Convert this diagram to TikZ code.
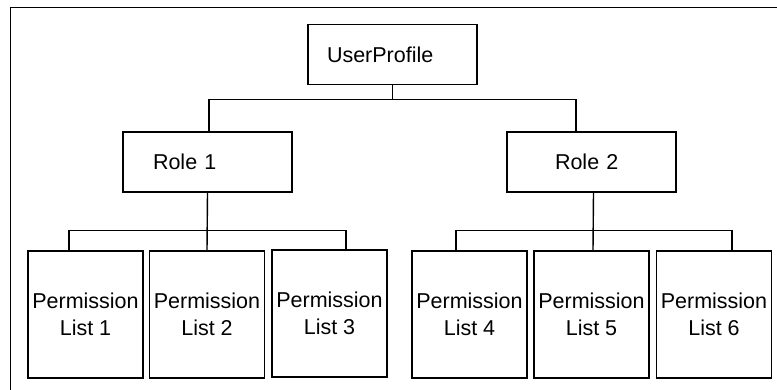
\documentclass[tikz,border=0pt]{standalone}
\usepackage{fontspec}
\setmainfont{Liberation Sans}
\begin{document}
\begin{tikzpicture}[x=1pt,y=-1pt,
  box/.style={draw, line width=1.4pt, rectangle, inner ysep=0pt,
              minimum width=169pt, minimum height=60pt,
              font=\fontsize{21.5}{25}\selectfont, align=left},
  perm/.style={draw, line width=1.4pt, rectangle, inner sep=0pt,
               minimum width=115pt, minimum height=127pt,
               font=\fontsize{21.5}{27}\selectfont, align=center},
  link/.style={draw, line width=1.4pt},
  frame/.style={draw, line width=1.7pt}]
\useasboundingbox (0,0) rectangle (777,389);

% open frame along the top and left edges
\coordinate (fc) at (10.5,7.5);
\coordinate (fr) at (790,7.5);
\coordinate (fb) at (10.5,400);
\draw[frame] (fr) -- (fc) -- (fb);

% root and role boxes (text set towards the left)
\node[box, inner xsep=19pt, text width=131pt] (up) at (392.5,54.5) {UserProfile};
\node[box, inner xsep=30pt, text width=109pt] (r1) at (207.5,162) {Role 1};
\node[box, inner xsep=48pt, text width=73pt] (r2) at (591.5,162) {Role 2};

% permission lists
\node[perm] (p1) at (85.5,314.5) {Permission\\List 1};
\node[perm] (p2) at (207,314.5) {Permission\\List 2};
\node[perm] (p3) at (329.5,313.5) {Permission\\List 3};
\node[perm] (p4) at (469.5,314.5) {Permission\\List 4};
\node[perm] (p5) at (591.5,314.5) {Permission\\List 5};
\node[perm] (p6) at (714,314.5) {Permission\\List 6};

% UserProfile to the roles
\coordinate (j0) at (392.5,100);
\draw[link] (up.south) -- (j0);
\draw[link] ([xshift=1.5pt]r1.north) -- ++(0,-32) -| ([xshift=-15.5pt]r2.north);

% Role 1 to lists 1-3
\draw[link] (r1.south) -- (p2.north);
\draw[link] ([xshift=-16.5pt]p1.north) -- ++(0,-20) -| ([xshift=16.5pt]p3.north);

% Role 2 to lists 4-6
\draw[link] ([xshift=2pt]r2.south) -- ([xshift=1.5pt]p5.north);
\draw[link] ([xshift=-13.5pt]p4.north) -- ++(0,-20) -| ([xshift=18pt]p6.north);
\end{tikzpicture}
\end{document}
